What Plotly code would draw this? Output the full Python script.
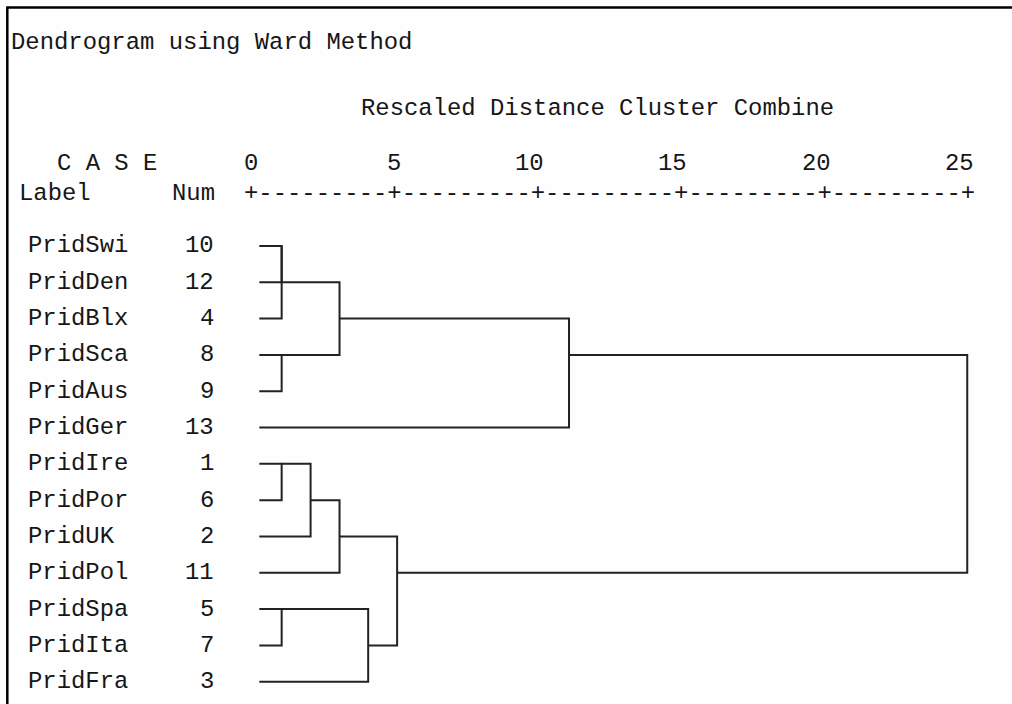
import plotly.graph_objects as go

# ---- data -------------------------------------------------------------
case_labels = ["PridSwi", "PridDen", "PridBlx", "PridSca", "PridAus", "PridGer",
               "PridIre", "PridPor", "PridUK", "PridPol", "PridSpa", "PridIta", "PridFra"]
case_nums = [10, 12, 4, 8, 9, 13, 1, 6, 2, 11, 5, 7, 3]

# agglomeration steps: (cluster a, cluster b, rescaled distance)
# ids 0..12 are the cases in display order, 13+ are the clusters formed in order
merge_a = [0, 13, 3, 6, 10, 16, 14, 18, 17, 20, 19, 23]
merge_b = [1, 2, 4, 7, 11, 8, 15, 9, 12, 21, 5, 22]
merge_dist = [1.07, 1.07, 1.07, 1.07, 1.07, 2.08, 3.09, 3.09, 4.09, 5.10, 11.10, 25.00]

tick_values = [0, 5, 10, 15, 20, 25]

# ---- layout constants (pixels) ---------------------------------------
W, H = 1012, 704
PX0 = 251.0          # pixel column of distance 0
PXU = 28.65          # pixels per distance unit
ROW0 = 246.0         # pixel row of the first case
ROWH = 36.31         # pixels between cases
LEAF_START = 0.29    # where case lines begin, in distance units
FONT = "Liberation Mono, Courier New, monospace"
FSIZE = 23.9
INK = "#161616"


def px_x(px):
    return px / W


def px_y(py):
    return 1 - py / H


# ---- dendrogram segments ---------------------------------------------
n = len(case_labels)
node_row = {i: i for i in range(n)}
node_h = {i: LEAF_START for i in range(n)}
xs, ys = [], []
for k, (a, b, d) in enumerate(zip(merge_a, merge_b, merge_dist)):
    ra, rb = node_row[a], node_row[b]
    xs += [node_h[a], d, d, node_h[b], None]
    ys += [ra, ra, rb, rb, None]
    node_row[n + k] = (ra + rb) // 2
    node_h[n + k] = d

fig = go.Figure()
fig.add_trace(go.Scatter(x=xs, y=ys, mode="lines",
                         line=dict(color="#222222", width=2),
                         hoverinfo="skip", showlegend=False))

ann = []


def text(s, x, y, xanchor="left", xref="paper", xshift=0):
    ann.append(dict(text=s, x=x, y=y, xref=xref, yref="paper",
                    xanchor=xanchor, yanchor="middle", xshift=xshift,
                    showarrow=False, font=dict(family=FONT, size=FSIZE, color=INK)))


text("Dendrogram using Ward Method", px_x(9), px_y(42))
text("Rescaled Distance Cluster Combine", px_x(359), px_y(108))
text("C A S E", px_x(55), px_y(164))
text("Label", px_x(17), px_y(193))
text("Num", px_x(170), px_y(193))

# scale ruler: tick numbers above, "+----+" line below
for t in tick_values:
    text(str(t), t, px_y(164), xanchor="right", xref="x", xshift=8.5)
ruler = "+" + "".join("-" * 9 + "+" for _ in tick_values[1:])
text(ruler, tick_values[0], px_y(193), xanchor="left", xref="x", xshift=-8.6)

# case labels and numbers
for i, (lab, num) in enumerate(zip(case_labels, case_nums)):
    yp = px_y(ROW0 + i * ROWH)
    text(lab, px_x(26), yp)
    text(str(num), px_x(216), yp, xanchor="right")

# frame lines along the top and left
shapes = [
    dict(type="line", xref="paper", yref="paper", x0=px_x(7), x1=1.05, y0=px_y(7.5), y1=px_y(7.5),
         line=dict(color="#000000", width=2.5)),
    dict(type="line", xref="paper", yref="paper", x0=px_x(7.3), x1=px_x(7.3), y0=px_y(6.5), y1=-0.05,
         line=dict(color="#000000", width=2.5)),
]

fig.update_layout(
    width=W, height=H,
    margin=dict(l=0, r=0, t=0, b=0),
    paper_bgcolor="#fefefe", plot_bgcolor="#fefefe",
    xaxis=dict(range=[-PX0 / PXU, (W - PX0) / PXU], visible=False, fixedrange=True),
    yaxis=dict(range=[(H - ROW0) / ROWH, -ROW0 / ROWH], visible=False, fixedrange=True),
    annotations=ann, shapes=shapes,
    showlegend=False,
)

fig.write_html("out.html", config={"displayModeBar": False})
